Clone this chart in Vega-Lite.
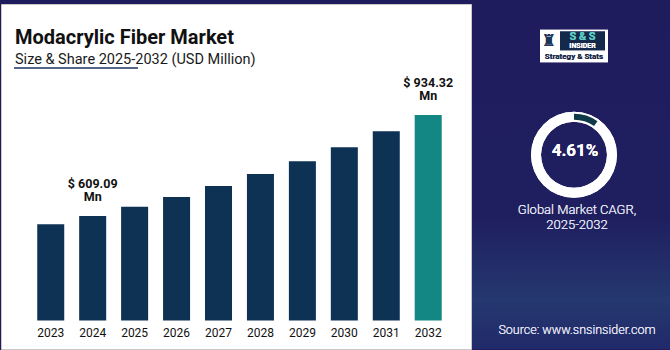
{
  "$schema": "https://vega.github.io/schema/vega-lite/v6.json",
  "background": "#1f1c5e",
  "padding": {"top": 3, "left": 0, "right": 0, "bottom": 0},
  "spacing": 0,
  "config": {"view": {"stroke": null}, "font": "Roboto"},
  "hconcat": [
    {
      "width": 470,
      "height": 345,
      "view": {"fill": "white", "stroke": "#c9c9c9", "strokeWidth": 1},
      "title": {
        "text": "Modacrylic Fiber Market",
        "subtitle": "Size & Share 2025-2032 (USD Million)",
        "anchor": "start",
        "frame": "group",
        "orient": "top",
        "offset": -62,
        "dx": 14,
        "font": "Roboto",
        "fontSize": 20,
        "fontWeight": "bold",
        "color": "#111111",
        "subtitleFont": "Roboto",
        "subtitleFontSize": 14.5,
        "subtitleColor": "#1a1a1a",
        "subtitlePadding": 5
      },
      "data": {
        "values": [
          {"year": "2023", "value": 582.4},
          {"year": "2024", "value": 609.09, "label": "$ 609.09\nMn"},
          {"year": "2025", "value": 639.0},
          {"year": "2026", "value": 670.3},
          {"year": "2027", "value": 705.7},
          {"year": "2028", "value": 744.3},
          {"year": "2029", "value": 785.2},
          {"year": "2030", "value": 830.3},
          {"year": "2031", "value": 881.8},
          {"year": "2032", "value": 934.32, "label": "$ 934.32\nMn"}
        ]
      },
      "resolve": {"scale": {"x": "independent", "y": "independent"}},
      "layer": [
        {
          "encoding": {
            "x": {
              "field": "year",
              "type": "ordinal",
              "scale": {"paddingInner": 0.356, "paddingOuter": 0.781, "align": 0.553},
              "axis": {
                "title": null,
                "orient": "bottom",
                "offset": -28.5,
                "domain": false,
                "ticks": false,
                "grid": false,
                "labelAngle": 0,
                "labelPadding": 7,
                "labelFont": "Roboto",
                "labelFontSize": 12,
                "labelColor": "#111111"
              }
            },
            "y": {
              "field": "value",
              "type": "quantitative",
              "scale": {"domain": [180.8, 1291.7], "zero": false, "nice": false},
              "axis": null
            }
          },
          "layer": [
            {
              "mark": {"type": "bar"},
              "encoding": {
                "y2": {"datum": 272.6},
                "color": {
                  "condition": {"test": "datum.year == '2032'", "value": "#128783"},
                  "value": "#0e3254"
                }
              }
            },
            {
              "transform": [{"filter": "datum.label != null"}],
              "mark": {
                "type": "text",
                "lineBreak": "\n",
                "baseline": "bottom",
                "align": "center",
                "dy": -25,
                "lineHeight": 13.5,
                "font": "Roboto",
                "fontSize": 12.5,
                "fontWeight": "bold",
                "color": "#111111"
              },
              "encoding": {"text": {"field": "label"}}
            }
          ]
        },
        {
          "data": {"values": [{}]},
          "mark": {"type": "rule", "color": "#1b3560", "strokeWidth": 1.5},
          "encoding": {
            "x": {"datum": 13, "type": "quantitative", "scale": {"domain": [0, 470]}, "axis": null},
            "x2": {"datum": 137},
            "y": {"datum": 64, "type": "quantitative", "scale": {"domain": [0, 345], "reverse": true}, "axis": null}
          }
        }
      ]
    },
    {
      "width": 200,
      "height": 345,
      "view": {
        "fill": {
          "gradient": "linear",
          "x1": 0, "y1": 0, "x2": 0, "y2": 1,
          "stops": [
            {"offset": 0, "color": "#1f1c5e"},
            {"offset": 0.62, "color": "#1f1f60"},
            {"offset": 0.86, "color": "#25386f"},
            {"offset": 1, "color": "#21296a"}
          ]
        },
        "stroke": null
      },
      "data": {"values": [{"seg": "CAGR", "share": 9.7}, {"seg": "rest", "share": 90.3}]},
      "layer": [
        {
          "mark": {"type": "rect", "color": "white"},
          "encoding": {
            "x": {"datum": 68, "type": "quantitative", "scale": {"domain": [0, 200]}, "axis": null},
            "x2": {"datum": 136},
            "y": {"datum": 26, "type": "quantitative", "scale": {"domain": [0, 345], "reverse": true}, "axis": null},
            "y2": {"datum": 59}
          }
        },
        {
          "mark": {"type": "rect", "color": "#15294b"},
          "encoding": {
            "x": {"datum": 88, "type": "quantitative"},
            "x2": {"datum": 133},
            "y": {"datum": 28, "type": "quantitative"},
            "y2": {"datum": 47}
          }
        },
        {
          "mark": {"type": "text", "text": "S & S", "font": "Roboto", "fontSize": 11, "fontWeight": "bold", "color": "#5ccfc4", "baseline": "middle"},
          "encoding": {"x": {"datum": 110.5, "type": "quantitative"}, "y": {"datum": 33, "type": "quantitative"}}
        },
        {
          "mark": {"type": "text", "text": "INSIDER", "font": "Roboto", "fontSize": 7, "fontWeight": "bold", "color": "white", "baseline": "middle"},
          "encoding": {"x": {"datum": 110.5, "type": "quantitative"}, "y": {"datum": 43, "type": "quantitative"}}
        },
        {
          "mark": {"type": "text", "text": "Strategy & Stats", "font": "Roboto", "fontSize": 8, "fontWeight": "bold", "color": "#1d2b4d", "baseline": "middle"},
          "encoding": {"x": {"datum": 102, "type": "quantitative"}, "y": {"datum": 53.5, "type": "quantitative"}}
        },
        {
          "mark": {"type": "text", "text": "♜", "font": "DejaVu Sans", "fontSize": 16, "color": "#1d3557", "baseline": "middle"},
          "encoding": {"x": {"datum": 77, "type": "quantitative"}, "y": {"datum": 38, "type": "quantitative"}}
        },
        {
          "mark": {"type": "arc", "color": "white", "innerRadius": 33, "outerRadius": 43, "theta": 0, "theta2": 6.2832},
          "encoding": {"x": {"datum": 102, "type": "quantitative"}, "y": {"datum": 153, "type": "quantitative"}}
        },
        {
          "mark": {"type": "arc", "innerRadius": 35, "outerRadius": 41},
          "encoding": {
            "x": {"datum": 102, "type": "quantitative"},
            "y": {"datum": 153, "type": "quantitative"},
            "theta": {"field": "share", "type": "quantitative", "stack": true},
            "color": {"field": "seg", "type": "nominal", "scale": {"domain": ["CAGR", "rest"], "range": ["#0f3a4a", "transparent"]}, "legend": null}
          }
        },
        {
          "mark": {"type": "text", "text": "4.61%", "font": "Roboto", "fontSize": 17, "fontWeight": "bold", "color": "white", "baseline": "middle"},
          "encoding": {"x": {"datum": 103, "type": "quantitative"}, "y": {"datum": 149.5, "type": "quantitative"}}
        },
        {
          "mark": {"type": "text", "text": "Global Market CAGR,", "font": "Roboto", "fontSize": 13, "fontWeight": 300, "color": "#e6e6f3", "baseline": "alphabetic"},
          "encoding": {"x": {"datum": 105, "type": "quantitative"}, "y": {"datum": 213.5, "type": "quantitative"}}
        },
        {
          "mark": {"type": "text", "text": "2025-2032", "font": "Roboto", "fontSize": 13, "fontWeight": 300, "color": "#e6e6f3", "baseline": "alphabetic"},
          "encoding": {"x": {"datum": 105, "type": "quantitative"}, "y": {"datum": 228, "type": "quantitative"}}
        },
        {
          "mark": {"type": "text", "text": "Source: www.snsinsider.com", "font": "Roboto", "fontSize": 12.5, "fontWeight": 300, "color": "#e8e8f4", "baseline": "alphabetic"},
          "encoding": {"x": {"datum": 105, "type": "quantitative"}, "y": {"datum": 335, "type": "quantitative"}}
        }
      ]
    }
  ]
}
